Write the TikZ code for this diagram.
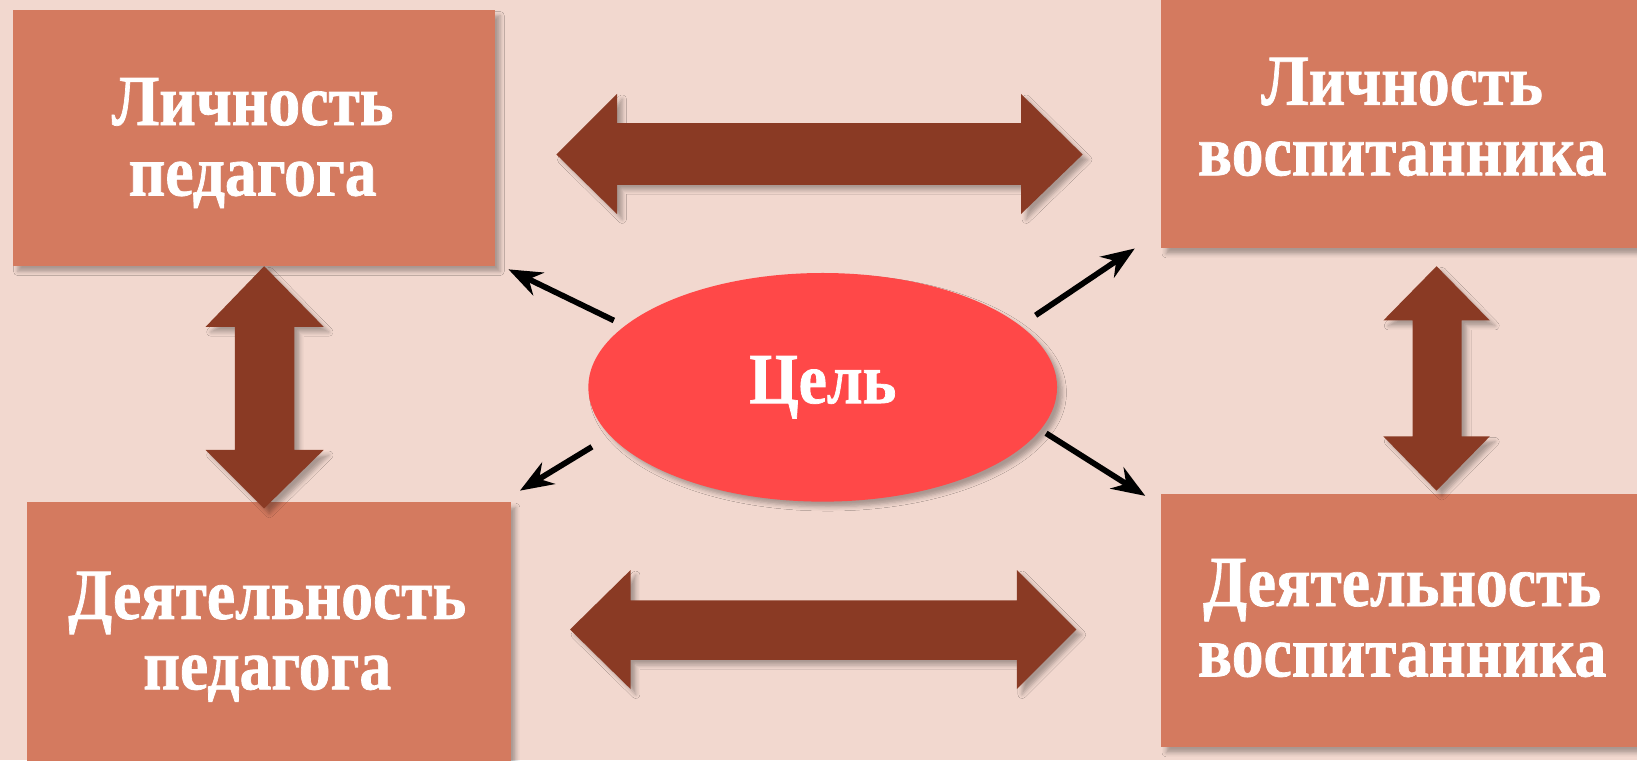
\documentclass[tikz,border=0pt]{standalone}
\usepackage{fontspec}
\setmainfont{Liberation Serif}
\newfontfamily\narrowserif[FakeStretch=0.885, BoldFeatures={FakeBold=1}]{Liberation Serif}
\usetikzlibrary{shapes.geometric,arrows.meta,shadows.blur}
\definecolor{bgpink}{HTML}{F2D8CF}
\definecolor{boxred}{HTML}{D47A5F}
\definecolor{arrbrown}{HTML}{8A3A24}
\definecolor{goalred}{HTML}{FF4848}
\tikzset{
  softshadow/.style={blur shadow={shadow xshift=0.5mm, shadow yshift=-0.5mm,
    shadow blur radius=0.4mm, shadow opacity=30}},
  box/.style={rectangle, fill=boxred, inner sep=0pt, softshadow},
  boxtext/.style={text=white, align=center, inner sep=0pt,
    font=\narrowserif\fontsize{19.6}{19.2}\selectfont\bfseries},
  goal/.style={ellipse, fill=goalred, inner sep=0pt, text=white,
    minimum width=44.9mm, minimum height=21.9mm, softshadow,
    font=\narrowserif\fontsize{19.6}{19.2}\selectfont\bfseries},
  bigarrow/.style={fill=arrbrown, softshadow},
  thinarrow/.style={line width=0.55mm, -{Stealth[length=3.2mm, width=2.4mm]}}
}
\begin{document}
\begin{tikzpicture}[x=0.1mm, y=-0.1mm]
    \useasboundingbox (0,0) rectangle (1568,728);
    \clip (0,0) rectangle (1568,728);
    \fill[bgpink] (0,0) rectangle (1568,728);
    % boxes
    \node[box, minimum width=46.2mm, minimum height=24.5mm] (lp) at (243,132.5) {};
    \node[box, minimum width=55.8mm, minimum height=25.8mm] (lv) at (1391,109) {};
    \node[box, minimum width=46.3mm, minimum height=30.9mm] (dp) at (257.5,635.5) {};
    \node[box, minimum width=55.8mm, minimum height=24.3mm] (dv) at (1391,594.5) {};
    \node[boxtext] (lp text) at (242,137) {Личность\\педагога};
    \node[boxtext] (lv text) at (1343,112) {Личность\\воспитанника};
    \node[boxtext] (dp text) at (256,610) {Деятельность\\педагога};
    \node[boxtext] (dv text) at (1343,592) {Деятельность\\воспитанника};
    % big double arrows
    \fill[bigarrow] (533,148) -- (591,90) -- (591,118) -- (978,118) -- (978,90) -- (1037,148)
        -- (978,205) -- (978,177) -- (591,177) -- (591,205) -- cycle;
    \fill[bigarrow] (546,603) -- (604,546) -- (604,575) -- (974,575) -- (974,546) -- (1031,603)
        -- (974,660) -- (974,632) -- (604,632) -- (604,660) -- cycle;
    \fill[bigarrow] (253,255) -- (310,313) -- (282,313) -- (282,431) -- (310,431) -- (253,487)
        -- (197,431) -- (225,431) -- (225,313) -- (197,313) -- cycle;
    \fill[bigarrow] (1376,255) -- (1427,307) -- (1400,307) -- (1400,418) -- (1427,418) -- (1376,470)
        -- (1325,418) -- (1353,418) -- (1353,307) -- (1325,307) -- cycle;
    % goal
    \node[goal] (goal) at (788,371) {Цель};
    % thin arrows
    \coordinate (g1) at (588,307);
    \coordinate (g2) at (992,302);
    \coordinate (g3) at (567,428);
    \coordinate (g4) at (1002,415);
    \coordinate (t1) at (487,258);
    \coordinate (t2) at (1087,238);
    \coordinate (t3) at (498,470);
    \coordinate (t4) at (1097,475);
    \foreach \i in {1,...,4}{\draw[thinarrow] (g\i) -- (t\i);}
\end{tikzpicture}
\end{document}
